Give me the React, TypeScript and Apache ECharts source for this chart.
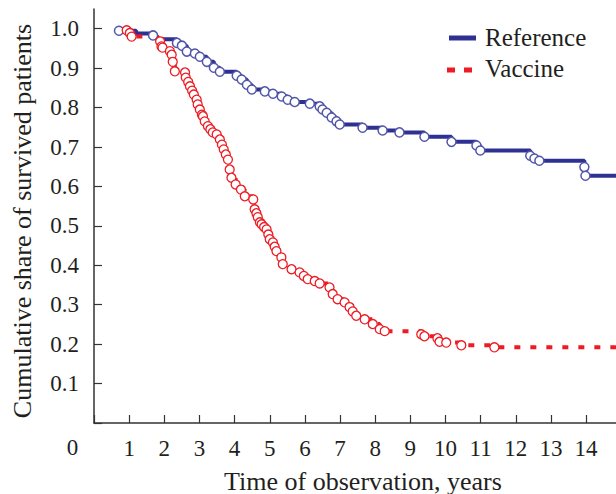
import React, { useEffect, useRef } from "react";
import * as echarts from "echarts";

// Step curve vertices [years, survival share]
const referenceCurve: [number, number][] = [
  [0.71, 0.995], [1.2, 0.988], [1.68, 0.983], [1.78, 0.973], [2.36, 0.964], [2.5, 0.957],
  [2.64, 0.942], [2.87, 0.937], [3.01, 0.929], [3.21, 0.916], [3.41, 0.901], [3.58, 0.891],
  [4.06, 0.881], [4.2, 0.871], [4.35, 0.858], [4.49, 0.846], [4.86, 0.841], [5.09, 0.835],
  [5.34, 0.828], [5.51, 0.82], [5.71, 0.814], [6.14, 0.81], [6.42, 0.803], [6.5, 0.795],
  [6.62, 0.787], [6.76, 0.775], [6.9, 0.765], [6.99, 0.757], [7.64, 0.749], [8.21, 0.742],
  [8.69, 0.737], [9.4, 0.726], [10.17, 0.713], [10.88, 0.704], [10.99, 0.691], [12.41, 0.678],
  [12.53, 0.671], [12.67, 0.665], [13.95, 0.649], [13.98, 0.627], [14.85, 0.627],
];
const referenceCensored: [number, number][] = [
  [0.71, 0.995], [1.68, 0.983], [2.36, 0.964], [2.5, 0.957], [2.64, 0.942], [2.87, 0.937],
  [3.01, 0.929], [3.21, 0.916], [3.41, 0.901], [3.58, 0.891], [4.06, 0.881], [4.2, 0.871],
  [4.35, 0.858], [4.49, 0.846], [4.86, 0.841], [5.09, 0.835], [5.34, 0.828], [5.51, 0.82],
  [5.71, 0.814], [6.14, 0.81], [6.42, 0.803], [6.5, 0.795], [6.62, 0.787], [6.76, 0.775],
  [6.9, 0.765], [6.99, 0.757], [7.64, 0.749], [8.21, 0.742], [8.69, 0.737], [9.4, 0.726],
  [10.17, 0.713], [10.88, 0.704], [10.99, 0.691], [12.41, 0.678], [12.53, 0.671], [12.67, 0.665],
  [13.95, 0.649], [13.98, 0.627],
];
const vaccineCurve: [number, number][] = [
  [0.93, 0.996], [1.02, 0.989], [1.07, 0.98], [1.82, 0.977], [1.88, 0.968], [1.92, 0.955],
  [1.95, 0.952], [2.16, 0.943], [2.21, 0.934], [2.24, 0.916], [2.3, 0.892], [2.59, 0.889],
  [2.61, 0.876], [2.68, 0.865], [2.73, 0.854], [2.79, 0.843], [2.84, 0.833], [2.92, 0.82],
  [2.95, 0.808], [3.01, 0.795], [3.07, 0.782], [3.1, 0.778], [3.15, 0.765], [3.24, 0.753],
  [3.31, 0.745], [3.38, 0.737], [3.49, 0.732], [3.58, 0.719], [3.64, 0.706], [3.69, 0.694],
  [3.75, 0.681], [3.81, 0.668], [3.86, 0.643], [3.91, 0.622], [4.03, 0.605], [4.18, 0.592],
  [4.29, 0.575], [4.53, 0.567], [4.57, 0.542], [4.62, 0.532], [4.66, 0.522], [4.72, 0.509],
  [4.77, 0.504], [4.84, 0.497], [4.91, 0.491], [4.96, 0.478], [5.0, 0.466], [5.09, 0.458],
  [5.14, 0.447], [5.19, 0.436], [5.33, 0.42], [5.37, 0.403], [5.62, 0.39], [5.85, 0.382],
  [5.97, 0.373], [6.08, 0.365], [6.28, 0.36], [6.42, 0.354], [6.7, 0.344], [6.79, 0.327],
  [6.93, 0.314], [7.13, 0.306], [7.27, 0.294], [7.36, 0.283], [7.46, 0.272], [7.7, 0.263],
  [7.93, 0.251], [8.13, 0.238], [8.27, 0.233], [9.31, 0.225], [9.4, 0.22], [9.77, 0.215],
  [9.83, 0.206], [10.02, 0.204], [10.45, 0.197], [11.39, 0.192], [14.85, 0.192],
];
const vaccineCensored: [number, number][] = vaccineCurve.filter(
  (p) => !(p[0] === 1.82 || p[0] === 14.85)
);

const xTickLabels = ["1", "2", "3", "4", "5", "6", "7", "8", "9", "10", "11", "12", "13", "14"];
const yTickLabels = ["0.1", "0.2", "0.3", "0.4", "0.5", "0.6", "0.7", "0.8", "0.9", "1.0"];

const FONT = "'Liberation Serif', 'Times New Roman', serif";
const TEXT = "#231f20";
const BLUE = "#2e3192";
const BLUE_MARK = "#5256aa";
const RED = "#ed1c24";

export default function App() {
  const ref = useRef<HTMLDivElement>(null);
  useEffect(() => {
    if (!ref.current) return;
    const chart = echarts.init(ref.current, null, { renderer: "svg" });
    chart.setOption({
      animation: false,
      backgroundColor: "#ffffff",
      grid: { left: 94, right: 0, top: 9, bottom: 71 },
      xAxis: {
        type: "value",
        min: 0,
        max: 14.85,
        interval: 1,
        splitLine: { show: false },
        axisLine: { lineStyle: { color: "#333", width: 1.5 } },
        axisTick: { inside: true, length: 8, lineStyle: { color: "#333", width: 1.2 } },
        axisLabel: {
          margin: 14,
          fontFamily: FONT,
          fontSize: 23,
          color: TEXT,
          showMaxLabel: false,
          formatter: (v: number) => {
            const i = Math.round(v);
            return i >= 1 && i <= 14 ? xTickLabels[i - 1] : "";
          },
        },
      },
      yAxis: {
        type: "value",
        min: 0,
        max: 1.05,
        interval: 0.1,
        splitLine: { show: false },
        axisLine: { show: true, lineStyle: { color: "#333", width: 1.5 } },
        axisTick: { show: true, inside: true, length: 8, lineStyle: { color: "#333", width: 1.2 } },
        axisLabel: {
          margin: 15,
          fontFamily: FONT,
          fontSize: 23,
          color: TEXT,
          showMaxLabel: false,
          formatter: (v: number) => {
            const i = Math.round(v * 10);
            return i >= 1 && i <= 10 && Math.abs(v * 10 - i) < 0.01 ? yTickLabels[i - 1] : "";
          },
        },
      },
      graphic: [
        { type: "text", x: 72.5, y: 447, style: { text: "0", font: `23px ${FONT}`, fill: TEXT, textAlign: "center", textVerticalAlign: "middle" } },
        { type: "text", x: 363, y: 481, style: { text: "Time of observation, years", font: `26px ${FONT}`, fill: TEXT, textAlign: "center", textVerticalAlign: "middle" } },
        { type: "text", x: 22, y: 221, rotation: Math.PI / 2, style: { text: "Cumulative share of survived patients", font: `26px ${FONT}`, fill: TEXT, textAlign: "center", textVerticalAlign: "middle" } },
        { type: "line", shape: { x1: 449, y1: 38, x2: 476, y2: 38 }, style: { stroke: BLUE, lineWidth: 5 } },
        { type: "text", x: 485, y: 37, style: { text: "Reference", font: `25px ${FONT}`, fill: TEXT, textAlign: "left", textVerticalAlign: "middle" } },
        { type: "line", shape: { x1: 447, y1: 70, x2: 473, y2: 70 }, style: { stroke: RED, lineWidth: 5, lineDash: [8, 9] } },
        { type: "text", x: 485, y: 68, style: { text: "Vaccine", font: `25px ${FONT}`, fill: TEXT, textAlign: "left", textVerticalAlign: "middle" } },
      ],
      series: [
        {
          name: "Reference",
          type: "line",
          step: "end",
          data: referenceCurve,
          showSymbol: false,
          symbol: "none",
          lineStyle: { color: BLUE, width: 4 },
          z: 2,
        },
        {
          name: "Vaccine",
          type: "line",
          step: "end",
          data: vaccineCurve,
          showSymbol: false,
          symbol: "none",
          lineStyle: { color: RED, width: 4, type: [6, 10] },
          z: 2,
        },
        {
          name: "Reference censored",
          type: "scatter",
          data: referenceCensored,
          symbol: "circle",
          symbolSize: 9,
          itemStyle: { color: "#ffffff", borderColor: BLUE_MARK, borderWidth: 1.5, opacity: 1 },
          z: 3,
        },
        {
          name: "Vaccine censored",
          type: "scatter",
          data: vaccineCensored,
          symbol: "circle",
          symbolSize: 9,
          itemStyle: { color: "#ffffff", borderColor: RED, borderWidth: 1.3, opacity: 1 },
          z: 3,
        },
      ],
    });
    return () => chart.dispose();
  }, []);
  return <div ref={ref} style={{ width: 616, height: 494, position: "absolute", left: 0, top: 0 }} />;
}
